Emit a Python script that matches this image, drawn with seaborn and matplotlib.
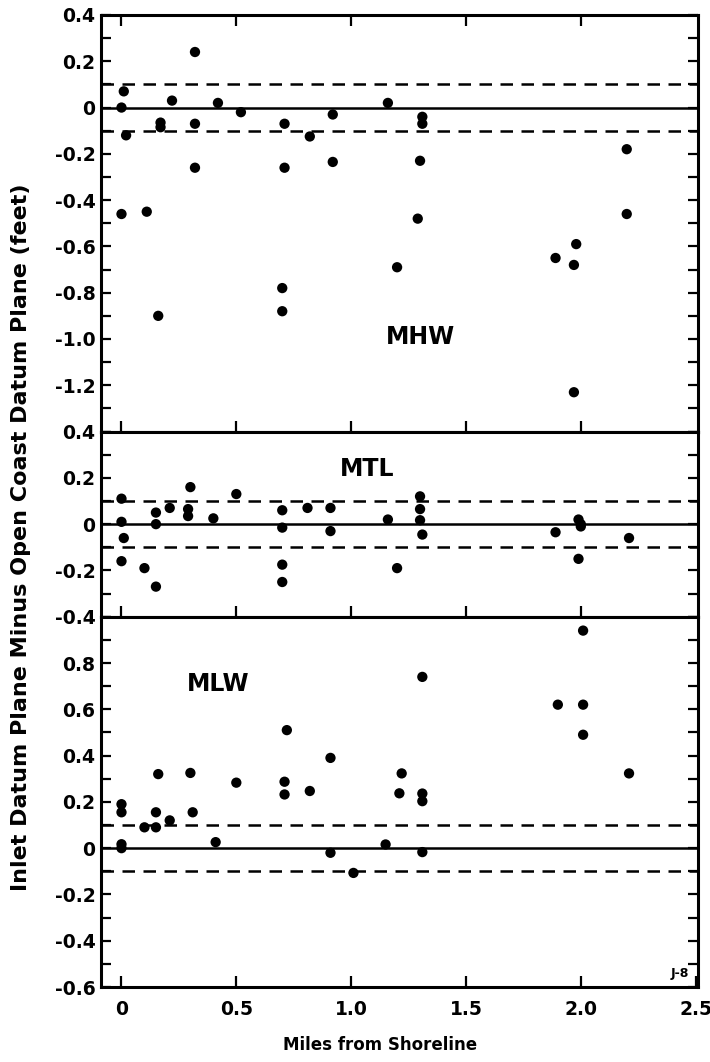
import numpy as np
import pandas as pd
import matplotlib
matplotlib.use("Agg")
import matplotlib.pyplot as plt
from matplotlib.ticker import MultipleLocator, FixedLocator, FuncFormatter
import seaborn as sns

# Inlet datum minus open-coast datum (feet) against distance from shoreline (miles)
mhw_x = [0.01, 0.00, 0.02, 0.00, 0.11, 0.16, 0.17, 0.17, 0.22, 0.32, 0.32, 0.32,
         0.42, 0.52, 0.71, 0.71, 0.70, 0.70, 0.82, 0.92, 0.92, 1.16, 1.31, 1.31,
         1.30, 1.29, 1.20, 2.20, 2.20, 1.98, 1.89, 1.97, 1.97]
mhw_y = [0.07, 0.00, -0.12, -0.46, -0.45, -0.90, -0.065, -0.085, 0.03, 0.24, -0.07, -0.26,
         0.02, -0.02, -0.07, -0.26, -0.78, -0.88, -0.125, -0.03, -0.235, 0.02, -0.04, -0.07,
         -0.23, -0.48, -0.69, -0.18, -0.46, -0.59, -0.65, -0.68, -1.23]

mtl_x = [0.00, 0.00, 0.01, 0.00, 0.10, 0.15, 0.15, 0.15, 0.21, 0.30, 0.29, 0.29,
         0.40, 0.50, 0.70, 0.70, 0.70, 0.70, 0.81, 0.91, 0.91, 1.16, 1.20, 1.30,
         1.30, 1.30, 1.31, 1.89, 1.99, 2.00, 2.00, 1.99, 2.21]
mtl_y = [0.11, 0.01, -0.06, -0.16, -0.19, -0.27, 0.05, 0.00, 0.07, 0.16, 0.065, 0.035,
         0.025, 0.13, 0.06, -0.015, -0.175, -0.25, 0.07, 0.07, -0.03, 0.02, -0.19, 0.12,
         0.065, 0.017, -0.045, -0.035, 0.02, 0.00, -0.01, -0.15, -0.06]

mlw_x = [2.01, 1.31, 1.90, 2.01, 2.01, 0.72, 0.00, 0.00, 0.00, 0.00, 0.10, 0.15,
         0.16, 0.15, 0.21, 0.30, 0.31, 0.41, 0.50, 0.71, 0.71, 0.82, 0.91, 0.91,
         1.01, 1.15, 1.31, 1.22, 1.21, 1.31, 1.31, 2.21]
mlw_y = [0.94, 0.74, 0.62, 0.62, 0.49, 0.51, 0.19, 0.155, 0.017, 0.00, 0.09, 0.09,
         0.32, 0.155, 0.12, 0.325, 0.155, 0.026, 0.283, 0.287, 0.232, 0.247, 0.39, -0.02,
         -0.107, 0.016, -0.017, 0.323, 0.237, 0.236, 0.203, 0.323]

panel_names = ["MHW", "MTL", "MLW"]
panel_ylims = [(-1.4, 0.4), (-0.4, 0.4), (-0.6, 1.0)]
panel_yticks = [[0.4, 0.2, 0.0, -0.2, -0.4, -0.6, -0.8, -1.0, -1.2],
                [0.4, 0.2, 0.0, -0.2, -0.4],
                [0.8, 0.6, 0.4, 0.2, 0.0, -0.2, -0.4, -0.6]]
x_ticks = [0.0, 0.5, 1.0, 1.5, 2.0, 2.5]
x_tick_labels = ["0", "0.5", "1.0", "1.5", "2.0", "2.5"]
tolerance = 0.1

sns.set_theme(style="white")
plt.rcParams["font.family"] = ["DejaVu Sans"]
plt.rcParams["font.weight"] = "bold"
plt.rcParams["axes.unicode_minus"] = False
for key in ("text.color", "axes.labelcolor", "xtick.color", "ytick.color",
            "axes.edgecolor"):
    plt.rcParams[key] = "black"

frames = [
    pd.DataFrame({"miles": mhw_x, "diff": mhw_y}),
    pd.DataFrame({"miles": mtl_x, "diff": mtl_y}),
    pd.DataFrame({"miles": mlw_x, "diff": mlw_y}),
]

fig = plt.figure(figsize=(7.1, 10.62), dpi=100)
gs = fig.add_gridspec(3, 1, height_ratios=[1.8, 0.8, 1.6], hspace=0.0,
                      left=0.142, right=0.983, bottom=0.0706, top=0.9859)
axes = [fig.add_subplot(gs[i]) for i in range(3)]


def fmt(v, _pos=None):
    if abs(v) < 1e-9:
        return "0"
    return f"{v:.1f}"


for i, (ax, df) in enumerate(zip(axes, frames)):
    ax.axhline(0.0, color="black", lw=1.8, zorder=1)
    for lvl in (tolerance, -tolerance):
        ax.axhline(lvl, color="black", lw=1.8, ls=(0, (5.0, 3.4)), zorder=1)
    sns.scatterplot(data=df, x="miles", y="diff", ax=ax, color="black",
                    s=55, edgecolor="none", zorder=3, legend=False)
    ax.set_xlim(-0.09, 2.51)
    ax.set_ylim(*panel_ylims[i])
    ax.set_xlabel("")
    ax.set_ylabel("")
    ax.yaxis.set_major_locator(FixedLocator(panel_yticks[i]))
    ax.yaxis.set_major_formatter(FuncFormatter(fmt))
    ax.yaxis.set_minor_locator(MultipleLocator(0.1))
    ax.xaxis.set_major_locator(FixedLocator(x_ticks[:-1]))
    ax.tick_params(axis="y", which="both", direction="in", left=True, right=True,
                   length=7, width=1.6, labelsize=13.5, pad=4, colors="black")
    ax.tick_params(axis="x", which="major", direction="in", bottom=True,
                   top=(i == 0), length=8, width=1.6, labelsize=13.5, pad=9,
                   colors="black")
    for lab in ax.get_yticklabels():
        lab.set_fontweight("bold")
    for sp in ax.spines.values():
        sp.set_linewidth(2.2)
        sp.set_color("black")
    if i < 2:
        ax.tick_params(axis="x", labelbottom=False)

axes[2].xaxis.set_major_locator(FixedLocator(x_ticks))
axes[2].set_xticklabels(x_tick_labels, fontweight="bold")
axes[2].tick_params(axis="x", which="major", direction="in", length=8, width=1.6)

# panel names
axes[0].text(1.30, -0.99, panel_names[0], ha="center", va="center",
             fontsize=17, fontweight="bold", color="black")
axes[1].text(1.07, 0.24, panel_names[1], ha="center", va="center",
             fontsize=17, fontweight="bold", color="black")
axes[2].text(0.42, 0.71, panel_names[2], ha="center", va="center",
             fontsize=17, fontweight="bold", color="black")
axes[2].text(0.985, 0.02, "J-8", transform=axes[2].transAxes, ha="right",
             va="bottom", fontsize=9, fontweight="bold", color="black")

fig.text(0.030, 0.494, "Inlet Datum Plane Minus Open Coast Datum Plane (feet)",
         rotation=90, ha="center", va="center", fontsize=16, fontweight="bold",
         color="black")
fig.text(0.535, 0.016, "Miles from Shoreline", ha="center", va="center",
         fontsize=12, fontweight="bold", color="black")

fig.savefig("out.png", dpi=100, facecolor="white")
